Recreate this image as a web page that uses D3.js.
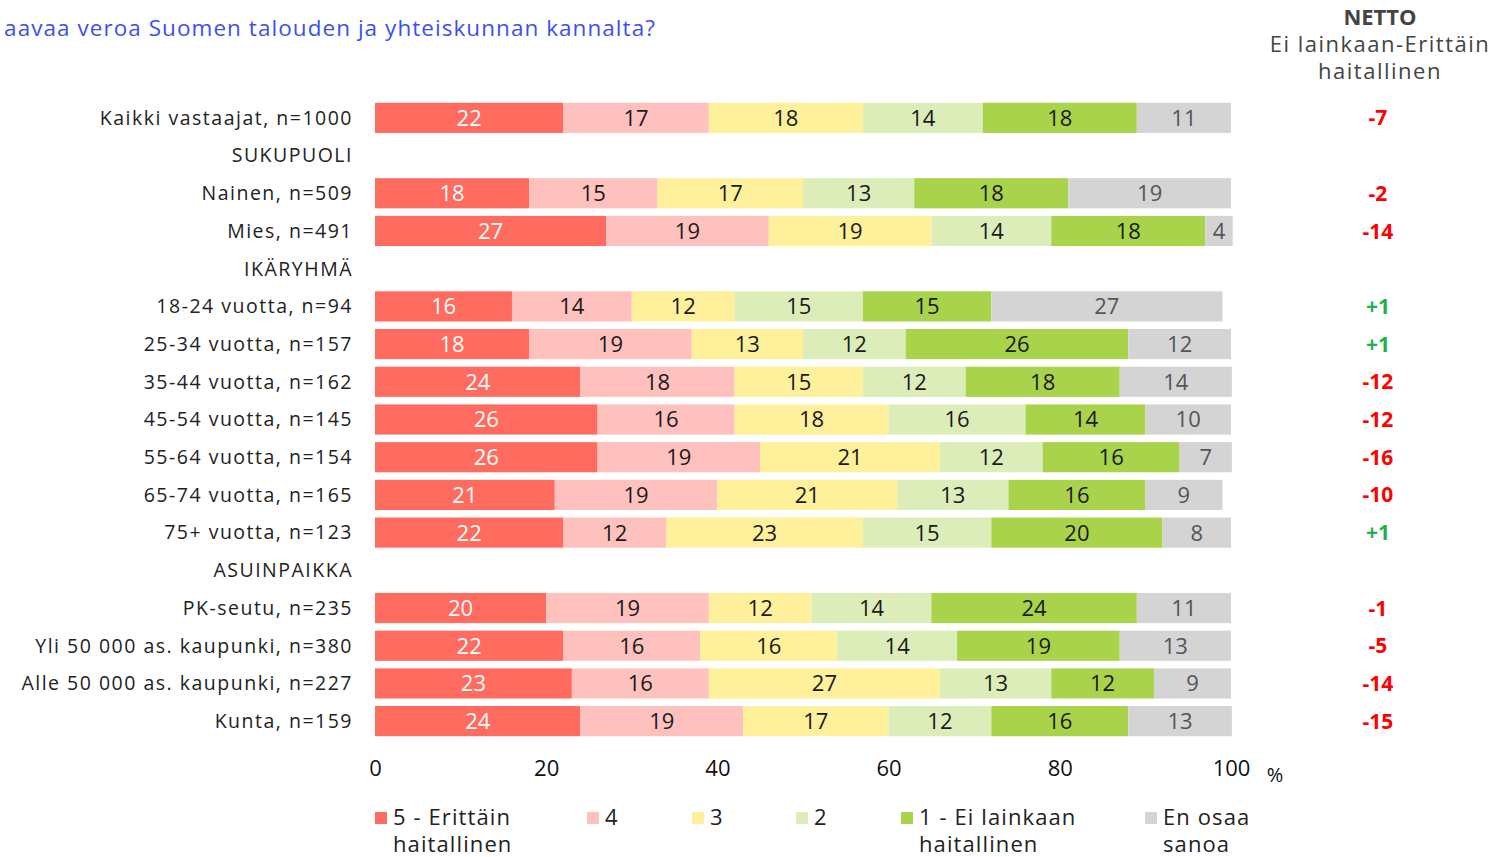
<!DOCTYPE html>
<html><head><meta charset="utf-8">
<script src="https://cdn.jsdelivr.net/npm/d3@7"></script>
<style>body{margin:0;background:#fff;} svg{display:block;font-family:"Open Sans",sans-serif;}</style>
</head><body>
<svg id="c" width="1503" height="857"></svg>
<script>
const rows = ["Kaikki vastaajat, n=1000","SUKUPUOLI","Nainen, n=509","Mies, n=491","IKÄRYHMÄ",
  "18-24 vuotta, n=94","25-34 vuotta, n=157","35-44 vuotta, n=162","45-54 vuotta, n=145","55-64 vuotta, n=154",
  "65-74 vuotta, n=165","75+ vuotta, n=123","ASUINPAIKKA","PK-seutu, n=235","Yli 50 000 as. kaupunki, n=380",
  "Alle 50 000 as. kaupunki, n=227","Kunta, n=159"];
const seriesNames = ["5 - Erittäin haitallinen","4","3","2","1 - Ei lainkaan haitallinen","En osaa sanoa"];
const s5 = [22,null,18,27,null,16,18,24,26,26,21,22,null,20,22,23,24];
const s4 = [17,null,15,19,null,14,19,18,16,19,19,12,null,19,16,16,19];
const s3 = [18,null,17,19,null,12,13,15,18,21,21,23,null,12,16,27,17];
const s2 = [14,null,13,14,null,15,12,12,16,12,13,15,null,14,14,13,12];
const s1 = [18,null,18,18,null,15,26,18,14,16,16,20,null,24,19,12,16];
// "En osaa sanoa": printed labels and the bar lengths
const sEOS = [11,null,19,4,null,27,12,14,10,7,9,8,null,11,13,9,13];
const sEOSBar = [11,null,19,3.2,null,27,12,13.1,10,6.1,9,8,null,11,13,9,12.1];
const netto = ["-7",null,"-2","-14",null,"+1","+1","-12","-12","-16","-10","+1",null,"-1","-5","-14","-15"];
const xTicks = [0,20,40,60,80,100];

const colors = ["#ff6b5e","#ffc1bd","#fff09b","#dcedb9","#a8d34a","#d4d4d4"];
const textColors = ["#ffffff","#1a1a1a","#1a1a1a","#1a1a1a","#1a1a1a","#555555"];
const barSeries = [s5,s4,s3,s2,s1,sEOSBar];
const labelSeries = [s5,s4,s3,s2,s1,sEOS];

const svg = d3.select("#c");
const x = d3.scaleLinear().domain([0,100]).range([375,1231]);
const y = d3.scaleBand().domain(d3.range(rows.length)).range([99,740]).paddingInner(0.2).paddingOuter(0.1);

// title
svg.append("text").attr("x",656).attr("y",36).attr("text-anchor","end")
  .attr("font-size",22.5).attr("letter-spacing",1.05).attr("fill","#3d4ff0").text("aavaa veroa Suomen talouden ja yhteiskunnan kannalta?");

// netto header
const nh = svg.append("g").attr("fill","#444").attr("font-size",22).attr("text-anchor","middle");
nh.append("text").attr("x",1380).attr("y",25).attr("font-weight","bold").text("NETTO");
nh.append("text").attr("x",1380).attr("y",52).attr("letter-spacing",1.5).text("Ei lainkaan-Erittäin");
nh.append("text").attr("x",1380).attr("y",79).attr("letter-spacing",1.5).text("haitallinen");

// category labels
svg.append("g").selectAll("text").data(rows).join("text")
  .attr("x",353).attr("y",(d,i)=>y(i)+y.bandwidth()/2).attr("dy","0.35em")
  .attr("text-anchor","end").attr("font-size",19.5).attr("letter-spacing",1.5).attr("fill","#222").text(d=>d);

// bars
const segs = rows.map((r,i)=>{
  if (s5[i]===null) return [];
  let cum=0;
  return barSeries.map((s,k)=>{const v=s[i]; const seg={k,i,v,label:labelSeries[k][i],x0:cum,x1:cum+v}; cum+=v; return seg;});
}).flat();
svg.append("g").selectAll("rect").data(segs).join("rect")
  .attr("x",d=>x(d.x0)).attr("width",d=>x(d.x1)-x(d.x0))
  .attr("y",d=>y(d.i)).attr("height",y.bandwidth()).attr("fill",d=>colors[d.k]);
svg.append("g").selectAll("text").data(segs).join("text")
  .attr("x",d=>(x(d.x0)+x(d.x1))/2).attr("y",d=>y(d.i)+y.bandwidth()/2).attr("dy","0.36em")
  .attr("text-anchor","middle").attr("font-size",22).attr("fill",d=>textColors[d.k]).text(d=>d.label);

// netto values
svg.append("g").selectAll("text").data(netto.map((v,i)=>({v,i})).filter(d=>d.v!==null)).join("text")
  .attr("x",1378).attr("y",d=>y(d.i)+y.bandwidth()/2).attr("dy","0.36em").attr("text-anchor","middle")
  .attr("font-size",21).attr("font-weight","bold").attr("fill",d=>d.v.startsWith("+")?"#1fb14c":"#ff0000").text(d=>d.v);

// x axis
const ax = svg.append("g").attr("transform","translate(0,752)")
  .call(d3.axisBottom(x).tickValues(xTicks).tickSize(0).tickPadding(8).tickFormat(d3.format("d")));
ax.select(".domain").remove();
ax.selectAll("text").attr("font-size",22).attr("fill","#111").attr("font-family","'Open Sans',sans-serif");
svg.append("text").attr("x",1275).attr("y",782).attr("text-anchor","middle").attr("font-size",20).attr("fill","#111").text("%");

// legend
const legX = [375,587,692,796,901,1145];
const legLines = [["5 - Erittäin","haitallinen"],["4"],["3"],["2"],["1 - Ei lainkaan","haitallinen"],["En osaa","sanoa"]];
const lg = svg.append("g").selectAll("g").data(seriesNames).join("g").attr("transform",(d,i)=>`translate(${legX[i]},0)`);
lg.append("rect").attr("x",0).attr("y",812).attr("width",12).attr("height",12).attr("fill",(d,i)=>colors[i]);
lg.each(function(d,i){
  const t=d3.select(this).append("text").attr("x",18).attr("y",825).attr("font-size",22).attr("letter-spacing",1.1).attr("fill","#222");
  legLines[i].forEach((l,j)=>t.append("tspan").attr("x",18).attr("dy",j?27:0).text(l));
});
</script>
</body></html>
